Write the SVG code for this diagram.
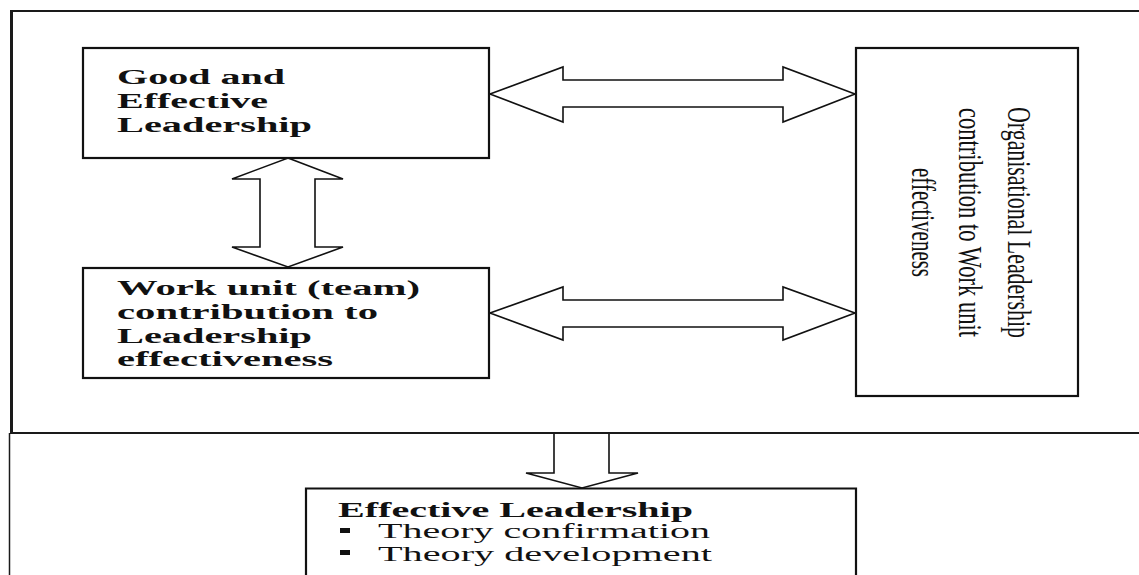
<svg xmlns="http://www.w3.org/2000/svg" width="1139" height="575" viewBox="0 0 1139 575">
<style>
.frame{fill:none;stroke:#1a1a1a;}
.box{fill:#fff;stroke:#111;stroke-width:2.2;}
.arrow{fill:#fff;stroke:#111;stroke-width:1.6;stroke-linejoin:miter;}
.tb{font-family:"Liberation Serif","Times New Roman",serif;font-weight:bold;font-size:20px;fill:#111;}
.tr{font-family:"Liberation Serif","Times New Roman",serif;font-size:20px;fill:#111;}
.tv{font-family:"Liberation Serif","Times New Roman",serif;font-size:22px;fill:#111;}
</style>
<rect width="1139" height="575" fill="#fff"/>
<g id="frame">
  <line class="frame" x1="10" y1="11" x2="1139" y2="11" stroke-width="2.2"/>
  <line class="frame" x1="11.5" y1="10" x2="11.5" y2="434" stroke-width="3"/>
  <line class="frame" x1="10" y1="433" x2="1139" y2="433" stroke-width="2"/>
  <line class="frame" x1="9.5" y1="433" x2="9.5" y2="575" stroke-width="1.5"/>
</g>
<g id="connectors">
  <path class="arrow" d="M490,94 L563,67 L563,80 L783,80 L783,67 L855,94 L783,122 L783,107 L563,107 L563,122 Z"/>
  <path class="arrow" d="M490,313 L563,287 L563,300 L783,300 L783,287 L855,313 L783,340 L783,327 L563,327 L563,340 Z"/>
  <path class="arrow" d="M288,158 L343,179 L315,179 L315,247 L343,247 L288,267 L232,247 L260,247 L260,179 L232,179 Z"/>
  <path class="arrow" d="M554,434 L554,473 L526,473 L582,488 L638,473 L609,473 L609,434"/>
</g>
<g id="node-good-leadership">
  <rect class="box" x="83" y="48" width="406" height="110"/>
  <text class="tb" x="117" y="84" textLength="168" lengthAdjust="spacingAndGlyphs">Good and</text>
  <text class="tb" x="117" y="108" textLength="151" lengthAdjust="spacingAndGlyphs">Effective</text>
  <text class="tb" x="117" y="132" textLength="195" lengthAdjust="spacingAndGlyphs">Leadership</text>
</g>
<g id="node-work-unit">
  <rect class="box" x="83" y="268" width="406" height="110"/>
  <text class="tb" x="117" y="295" textLength="303" lengthAdjust="spacingAndGlyphs">Work unit (team)</text>
  <text class="tb" x="117" y="319" textLength="261" lengthAdjust="spacingAndGlyphs">contribution to</text>
  <text class="tb" x="117" y="343" textLength="195" lengthAdjust="spacingAndGlyphs">Leadership</text>
  <text class="tb" x="117" y="366" textLength="216" lengthAdjust="spacingAndGlyphs">effectiveness</text>
</g>
<g id="node-organisational">
  <rect class="box" x="856" y="48" width="222" height="348" stroke-width="2.6"/>
  <text class="tv" text-anchor="middle" transform="translate(1008,222.5) rotate(90) scale(1,1.5)" textLength="231" lengthAdjust="spacingAndGlyphs">Organisational Leadership</text>
  <text class="tv" text-anchor="middle" transform="translate(959,222.5) rotate(90) scale(1,1.5)" textLength="229" lengthAdjust="spacingAndGlyphs">contribution to Work unit</text>
  <text class="tv" text-anchor="middle" transform="translate(912,222.5) rotate(90) scale(1,1.5)" textLength="109" lengthAdjust="spacingAndGlyphs">effectiveness</text>
</g>
<g id="node-effective-leadership">
  <path class="box" d="M306,580 L306,488.5 L856,488.5 L856,580" fill="none"/>
  <text class="tb" x="338" y="517" textLength="355" lengthAdjust="spacingAndGlyphs">Effective Leadership</text>
  <rect x="340" y="528" width="10" height="5" fill="#111"/>
  <text class="tr" x="378" y="538" textLength="332" lengthAdjust="spacingAndGlyphs">Theory confirmation</text>
  <rect x="340" y="550" width="10" height="5" fill="#111"/>
  <text class="tr" x="378" y="561" textLength="334" lengthAdjust="spacingAndGlyphs">Theory development</text>
</g>
</svg>
